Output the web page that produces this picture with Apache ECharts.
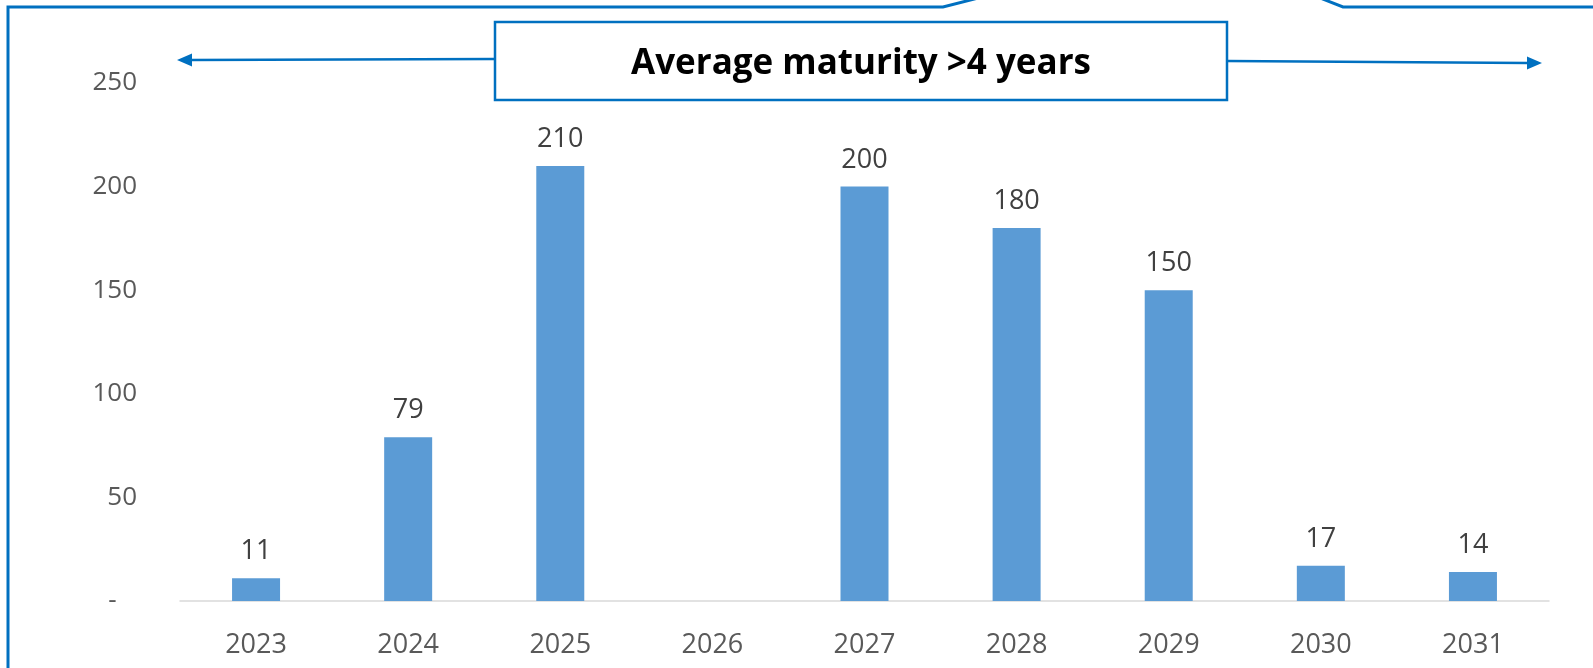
<!DOCTYPE html>
<html>
<head>
<meta charset="utf-8">
<title>Debt maturity profile</title>
<script src="https://cdn.jsdelivr.net/npm/echarts@6/dist/echarts.min.js"></script>
<style>
  html, body { margin: 0; padding: 0; background: #ffffff; }
  #chart { width: 1593px; height: 668px; }
</style>
</head>
<body>
<div id="chart"></div>
<script>
// Maturity years and amounts maturing in each year
const years = ['2023', '2024', '2025', '2026', '2027', '2028', '2029', '2030', '2031'];
const amounts = [11, 79, 210, null, 200, 180, 150, 17, 14];

// Value axis settings
const yMin = 0;
const yMax = 250;
const yStep = 50;

const bannerText = 'Average maturity >4 years';

const BLUE = '#0070C0';
const FONT = '"Open Sans", "Noto Sans", sans-serif';

const chart = echarts.init(document.getElementById('chart'), null, { renderer: 'canvas' });

// Frame outline with a raised tab along the top edge
const frame = {
  type: 'polyline',
  silent: true,
  shape: { points: [[8, 668], [8, 7], [943, 7], [990, -5]] },
  style: { stroke: BLUE, lineWidth: 3, fill: null }
};
const frameRight = {
  type: 'polyline',
  silent: true,
  shape: { points: [[1305, -8], [1343, 7], [1600, 7]] },
  style: { stroke: BLUE, lineWidth: 3, fill: null }
};

// Double-headed span arrow around the banner
function arrowHead(tipX, tipY, dir) {
  const len = 15, half = 6.5;
  return {
    type: 'polygon',
    silent: true,
    shape: { points: [[tipX, tipY], [tipX - dir * len, tipY - half], [tipX - dir * len, tipY + half]] },
    style: { fill: BLUE }
  };
}

const option = {
  backgroundColor: '#ffffff',
  animation: false,
  textStyle: { fontFamily: FONT },
  grid: { left: 180, right: 44, top: 83, bottom: 67, containLabel: false },
  xAxis: {
    type: 'category',
    data: years,
    axisLine: { show: true, lineStyle: { color: '#D9D9D9', width: 1.5 } },
    axisTick: { show: false },
    axisLabel: { color: '#595959', fontSize: 27, fontFamily: FONT, margin: 31 }
  },
  yAxis: {
    type: 'value',
    min: yMin,
    max: yMax,
    interval: yStep,
    splitLine: { show: false },
    axisLine: { show: false },
    axisTick: { show: false },
    axisLabel: {
      color: '#595959',
      fontSize: 26,
      fontFamily: FONT,
      margin: 43,
      padding: [6, 0, 0, 0],
      formatter: v => (v === 0 ? '-   ' : String(v))
    }
  },
  series: [{
    type: 'bar',
    data: amounts,
    barWidth: 48,
    itemStyle: { color: '#5B9BD5' },
    label: {
      show: true,
      position: 'top',
      distance: 13,
      color: '#404040',
      fontSize: 27,
      fontFamily: FONT,
      formatter: p => (p.value == null ? '' : String(p.value))
    }
  }],
  graphic: [
    frame,
    frameRight,
    {
      type: 'line', silent: true,
      shape: { x1: 190, y1: 60, x2: 495, y2: 59 },
      style: { stroke: BLUE, lineWidth: 2.5 }
    },
    arrowHead(177, 60, -1),
    {
      type: 'line', silent: true,
      shape: { x1: 1227, y1: 61, x2: 1528, y2: 63 },
      style: { stroke: BLUE, lineWidth: 2.5 }
    },
    arrowHead(1542, 63, 1),
    {
      type: 'rect', silent: true,
      shape: { x: 495, y: 22, width: 732, height: 78 },
      style: { fill: '#ffffff', stroke: BLUE, lineWidth: 2.5 }
    },
    {
      type: 'text', silent: true,
      x: 861, y: 64,
      style: {
        text: bannerText,
        fill: '#000000',
        font: 'bold 35px "Open Sans", "Noto Sans", sans-serif',
        textAlign: 'center',
        textVerticalAlign: 'middle'
      }
    }
  ]
};

chart.setOption(option);
</script>
</body>
</html>
